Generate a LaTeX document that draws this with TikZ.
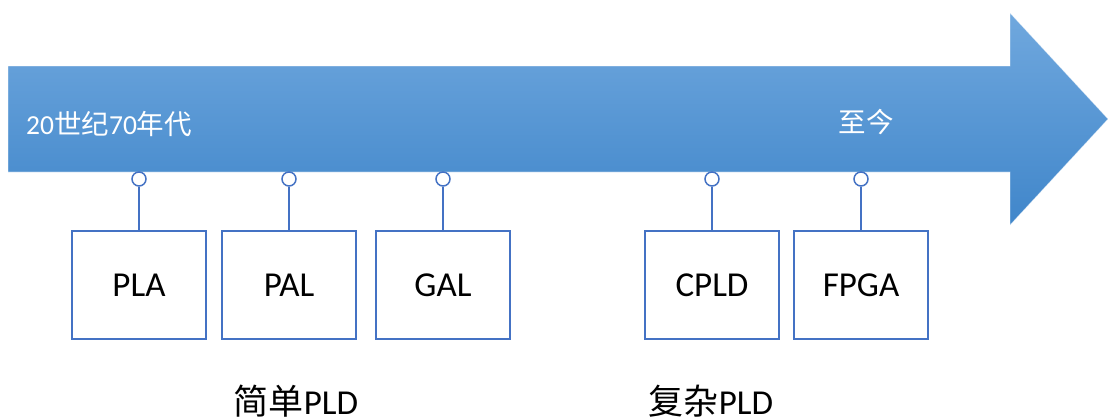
\documentclass[tikz,border=0pt]{standalone}
\usepackage{fontspec}
\setmainfont{Carlito}
\newfontfamily\cjk{Noto Sans CJK SC}
\begin{document}
\begin{tikzpicture}[x=1pt,y=-1pt,
  stage/.style={draw=boxblue,line width=1.5pt,fill=white,minimum width=134pt,minimum height=108pt,
    inner sep=0pt,font=\fontsize{35}{38}\selectfont,text=black},
  pin/.style={circle,draw=boxblue,line width=1.5pt,fill=white,minimum size=14pt,inner sep=0pt},
  link/.style={draw=boxblue,line width=1.5pt},
  onarrow/.style={text=white,font=\fontsize{27.5}{30}\selectfont,inner sep=0pt},
  group/.style={text=black,font=\fontsize{35}{38}\selectfont,inner sep=0pt}]
\definecolor{boxblue}{RGB}{68,114,196}
\definecolor{arrtop}{RGB}{112,168,222}
\definecolor{arrbot}{RGB}{64,134,202}
\useasboundingbox (0,0) rectangle (1108,416);
% time arrow
\shade[top color=arrtop,bottom color=arrbot]
  (8,66) -- (1010,66) -- (1010,13) -- (1108,119) -- (1010,225) -- (1010,172) -- (8,172) -- cycle;
\draw[white,opacity=0.5,line width=0.6pt]
  (8,66) -- (1010,66) -- (1010,13) -- (1108,119) -- (1010,225) -- (1010,172) -- (8,172) -- cycle;
\node[onarrow,anchor=west] (start) at (26,124) {20{\cjk 世纪}70{\cjk 年代}};
\node[onarrow] (now) at (866,122) {\cjk 至今};
% stages
\node[stage] (pla)  at (139,285) {PLA};
\node[stage] (pal)  at (289,285) {PAL};
\node[stage] (gal)  at (443,285) {GAL};
\node[stage] (cpld) at (712,285) {CPLD};
\node[stage] (fpga) at (861,285) {FPGA};
\foreach \n in {pla,pal,gal,cpld,fpga}{
  \node[pin] (\n-pin) at (\n.north |- 0,179) {};
  \draw[link] (\n-pin.south) -- (\n.north);
}
% group captions
\node[group] (simple)  at (296,401) {{\cjk 简单}PLD};
\node[group] (complex) at (711,401) {{\cjk 复杂}PLD};
\end{tikzpicture}
\end{document}
